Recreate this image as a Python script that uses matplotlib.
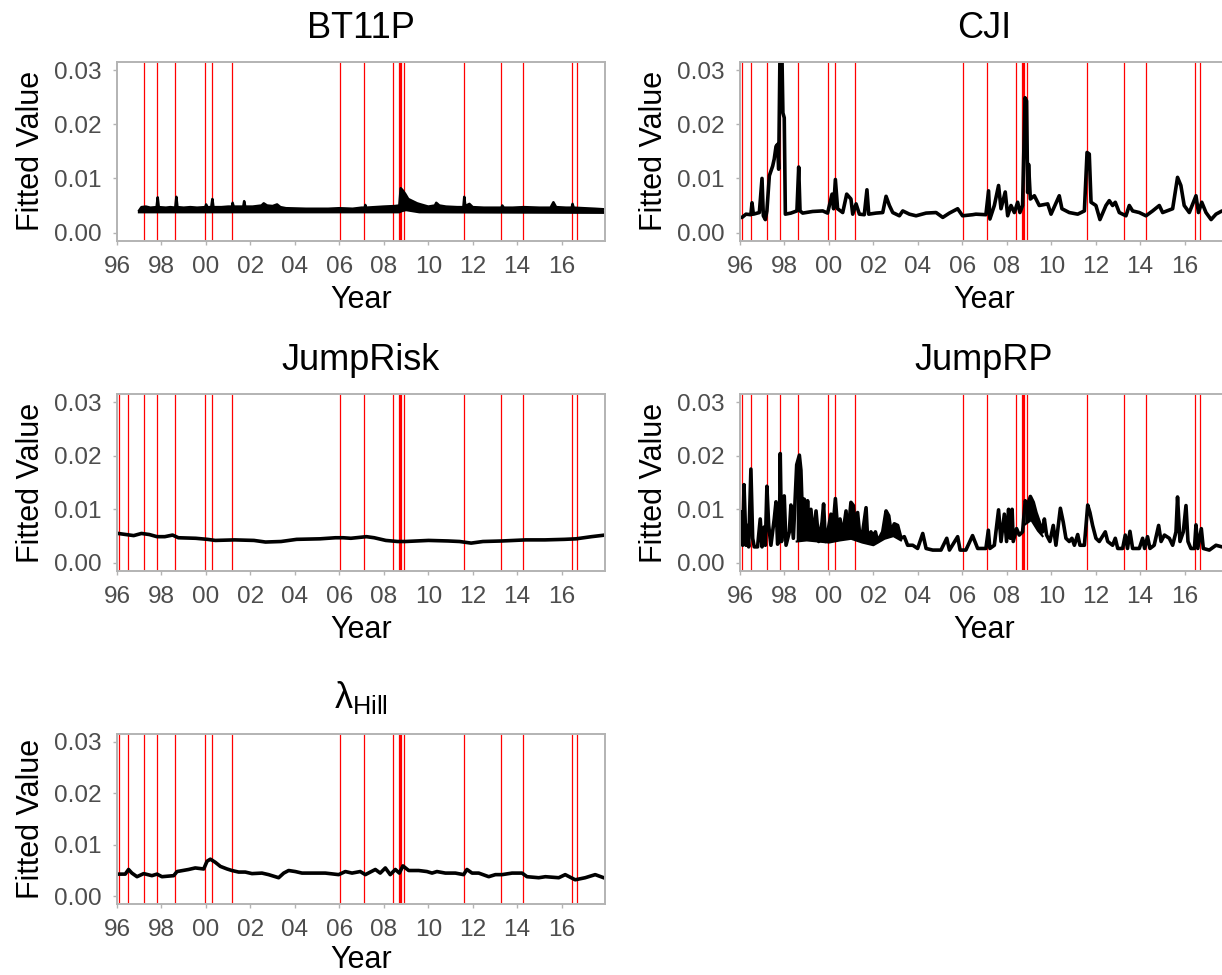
import matplotlib
matplotlib.use("Agg")
import matplotlib.pyplot as plt

plt.rcParams['font.family'] = ['Liberation Sans', 'DejaVu Sans']
plt.rcParams['mathtext.fontset'] = 'custom'
plt.rcParams['mathtext.rm'] = 'Liberation Sans'
plt.rcParams['mathtext.it'] = 'Liberation Sans:italic'

# event dates (red vertical lines)
events = [1996.10, 1996.48, 1997.23, 1997.78, 1998.62, 1999.97, 2000.26, 2001.16,
          2006.03, 2007.12, 2008.40, 2008.67, 2008.71, 2008.76, 2008.89,
          2011.59, 2013.29, 2014.26, 2016.48, 2016.69]

# BT11P: upper edge and lower edge of the band
bt_t = [1997.0, 1997.1, 1997.3, 1997.5, 1997.78, 1997.83, 1997.88, 1998.2, 1998.4, 1998.62,
        1998.67, 1998.72, 1999.0, 1999.3, 1999.6, 1999.97, 2000.01, 2000.06, 2000.24, 2000.29,
        2000.34, 2000.7, 2001.0, 2001.17, 2001.2, 2001.25, 2001.5, 2001.68, 2001.72, 2001.77,
        2002.1, 2002.5, 2002.6, 2002.75, 2003.0, 2003.2, 2003.35, 2003.6, 2004.5, 2005.5,
        2006.0, 2006.6, 2007.0, 2007.14, 2007.17, 2007.21, 2007.6, 2008.0, 2008.5, 2008.7,
        2008.76, 2008.85, 2008.97, 2009.1, 2009.3, 2009.5, 2009.66, 2010.0, 2010.3, 2010.36,
        2010.5, 2010.8, 2011.3, 2011.58, 2011.62, 2011.67, 2011.85, 2012.0, 2012.5, 2013.0,
        2013.29, 2013.33, 2013.4, 2013.8, 2014.3, 2015.0, 2015.5, 2015.63, 2015.75, 2016.2,
        2016.45, 2016.49, 2016.54, 2017.0, 2017.5, 2017.9]
bt_hi = [0.0041, 0.0047, 0.0048, 0.0046, 0.0047, 0.0065, 0.0047, 0.0046, 0.0047, 0.0046,
         0.0066, 0.0047, 0.0046, 0.0047, 0.0046, 0.0047, 0.0052, 0.0047, 0.0047, 0.0062,
         0.0047, 0.0047, 0.0048, 0.0048, 0.0055, 0.0048, 0.0048, 0.0048, 0.0058, 0.0048,
         0.0048, 0.0050, 0.0054, 0.0050, 0.0049, 0.0052, 0.0047, 0.0045, 0.0044, 0.0044,
         0.0045, 0.0044, 0.0046, 0.0046, 0.0051, 0.0046, 0.0047, 0.0048, 0.0049, 0.0050,
         0.0082, 0.0078, 0.0071, 0.0062, 0.0058, 0.0054, 0.0052, 0.0048, 0.0050, 0.0055,
         0.0050, 0.0048, 0.0047, 0.0047, 0.0066, 0.0049, 0.0053, 0.0047, 0.0046, 0.0046,
         0.0046, 0.0050, 0.0046, 0.0046, 0.0047, 0.0046, 0.0046, 0.0056, 0.0047, 0.0046,
         0.0046, 0.0053, 0.0046, 0.0045, 0.0044, 0.0043]
bt_lo_t = [1997.0, 2008.7, 2008.8, 2009.0, 2009.3, 2009.6, 2017.9]
bt_lo = [0.0038, 0.0038, 0.0040, 0.0042, 0.0040, 0.0038, 0.0037]

# CJI
cji_t = [1996.0, 1996.09, 1996.27, 1996.49, 1996.54, 1996.60, 1996.87, 1996.99, 1997.05, 1997.14,
         1997.21, 1997.32, 1997.47, 1997.54, 1997.62, 1997.69, 1997.74, 1997.80, 1997.89, 1997.93,
         1997.99, 1998.04, 1998.29, 1998.56, 1998.64, 1998.70, 1998.82, 1999.27, 1999.72, 1999.94,
         2000.14, 2000.21, 2000.29, 2000.39, 2000.62, 2000.80, 2000.99, 2001.07, 2001.22, 2001.37,
         2001.59, 2001.71, 2001.79, 2002.12, 2002.42, 2002.57, 2002.72, 2002.87, 2003.17, 2003.32,
         2003.62, 2003.92, 2004.37, 2004.82, 2005.12, 2005.42, 2005.79, 2006.01, 2006.46, 2006.61,
         2007.06, 2007.18, 2007.24, 2007.44, 2007.63, 2007.74, 2007.93, 2008.04, 2008.19, 2008.34,
         2008.49, 2008.59, 2008.71, 2008.82, 2008.89, 2008.94, 2008.98, 2009.06, 2009.24, 2009.46,
         2009.84, 2009.99, 2010.36, 2010.48, 2010.81, 2011.19, 2011.49, 2011.61, 2011.71, 2011.79,
         2012.01, 2012.19, 2012.46, 2012.61, 2012.76, 2012.88, 2013.06, 2013.36, 2013.51, 2013.66,
         2013.96, 2014.26, 2014.56, 2014.86, 2015.01, 2015.46, 2015.68, 2015.83, 2015.98, 2016.21,
         2016.51, 2016.62, 2016.77, 2016.96, 2017.19, 2017.41, 2017.68, 2017.9]
cji_v = [0.0028, 0.0028, 0.0034, 0.0033, 0.0055, 0.0034, 0.0037, 0.0100, 0.0031, 0.0024,
         0.0040, 0.0105, 0.0123, 0.0136, 0.0159, 0.0163, 0.0117, 0.0340, 0.0320, 0.0221,
         0.0212, 0.0034, 0.0036, 0.0040, 0.0121, 0.0040, 0.0036, 0.0039, 0.0040, 0.0036,
         0.0071, 0.0044, 0.0098, 0.0044, 0.0037, 0.0071, 0.0062, 0.0034, 0.0053, 0.0034,
         0.0033, 0.0079, 0.0034, 0.0036, 0.0037, 0.0067, 0.0050, 0.0037, 0.0031, 0.0040,
         0.0034, 0.0031, 0.0036, 0.0037, 0.0028, 0.0036, 0.0044, 0.0031, 0.0033, 0.0034,
         0.0033, 0.0077, 0.0025, 0.0050, 0.0087, 0.0044, 0.0075, 0.0031, 0.0050, 0.0037,
         0.0056, 0.0037, 0.0050, 0.0249, 0.0243, 0.0074, 0.0126, 0.0062, 0.0068, 0.0050,
         0.0053, 0.0034, 0.0068, 0.0044, 0.0037, 0.0034, 0.0040, 0.0148, 0.0145, 0.0056,
         0.0050, 0.0024, 0.0050, 0.0059, 0.0050, 0.0056, 0.0037, 0.0031, 0.0050, 0.0040,
         0.0037, 0.0031, 0.0040, 0.0050, 0.0037, 0.0044, 0.0102, 0.0087, 0.0050, 0.0037,
         0.0068, 0.0037, 0.0056, 0.0037, 0.0024, 0.0034, 0.0040, 0.0038]

# JumpRisk
jr_t = [1996.05, 1996.40, 1996.75, 1997.10, 1997.45, 1997.80, 1998.15, 1998.50, 1998.76, 1999.54,
        2000.07, 2000.42, 2001.29, 2002.16, 2002.68, 2003.38, 2004.08, 2005.13, 2005.83, 2006.17,
        2006.52, 2007.22, 2007.57, 2008.09, 2008.62, 2008.97, 2010.01, 2010.89, 2011.41, 2011.93,
        2012.46, 2013.33, 2014.38, 2015.25, 2016.12, 2016.65, 2017.34, 2017.95]
jr_v = [0.0055, 0.0053, 0.0051, 0.0055, 0.0053, 0.0049, 0.0049, 0.0052, 0.0047, 0.0046,
        0.0044, 0.0042, 0.0043, 0.0042, 0.0039, 0.0040, 0.0044, 0.0045, 0.0047, 0.0047,
        0.0046, 0.0049, 0.0047, 0.0042, 0.0040, 0.0040, 0.0042, 0.0041, 0.0040, 0.0037,
        0.0040, 0.0041, 0.0043, 0.0043, 0.0044, 0.0045, 0.0049, 0.0052]

# JumpRP: trace
jrp_t = [1996.0, 1996.04, 1996.12, 1996.18, 1996.27, 1996.31, 1996.39, 1996.49, 1996.57, 1996.64,
         1996.79, 1996.91, 1996.99, 1997.09, 1997.14, 1997.21, 1997.29, 1997.39, 1997.54, 1997.62,
         1997.69, 1997.77, 1997.81, 1997.87, 1997.99, 1998.07, 1998.22, 1998.29, 1998.40, 1998.55,
         1998.67, 1998.74, 1998.82, 1998.89, 1998.97, 1999.04, 1999.12, 1999.19, 1999.30, 1999.42,
         1999.54, 1999.69, 1999.76, 1999.84, 1999.94, 2000.09, 2000.17, 2000.29, 2000.39, 2000.50,
         2000.62, 2000.77, 2000.84, 2000.99, 2001.10, 2001.19, 2001.29, 2001.40, 2001.52, 2001.67,
         2001.74, 2001.89, 2002.00, 2002.09, 2002.19, 2002.42, 2002.57, 2002.69, 2002.79, 2002.94,
         2003.09, 2003.24, 2003.39, 2003.54, 2003.77, 2003.99, 2004.22, 2004.37, 2004.67, 2005.04,
         2005.30, 2005.42, 2005.79, 2005.90, 2006.16, 2006.46, 2006.69, 2006.90, 2007.06, 2007.17,
         2007.24, 2007.44, 2007.63, 2007.74, 2007.89, 2007.99, 2008.08, 2008.16, 2008.24, 2008.29,
         2008.44, 2008.56, 2008.71, 2008.83, 2008.94, 2009.06, 2009.19, 2009.31, 2009.46, 2009.61,
         2009.69, 2009.79, 2009.94, 2010.09, 2010.21, 2010.41, 2010.54, 2010.66, 2010.81, 2010.93,
         2011.04, 2011.19, 2011.29, 2011.49, 2011.64, 2011.74, 2011.86, 2012.01, 2012.16, 2012.43,
         2012.54, 2012.76, 2012.88, 2012.99, 2013.21, 2013.33, 2013.43, 2013.54, 2013.66, 2013.96,
         2014.11, 2014.20, 2014.33, 2014.44, 2014.63, 2014.83, 2014.94, 2015.09, 2015.31, 2015.46,
         2015.61, 2015.68, 2015.79, 2015.94, 2016.06, 2016.15, 2016.28, 2016.44, 2016.51, 2016.59,
         2016.75, 2016.84, 2017.11, 2017.41, 2017.68, 2017.9]
jrp_v = [0.0095, 0.0070, 0.0033, 0.0146, 0.0033, 0.0070, 0.0030, 0.0175, 0.0046, 0.0030,
         0.0030, 0.0082, 0.0030, 0.0067, 0.0033, 0.0143, 0.0070, 0.0033, 0.0082, 0.0114,
         0.0035, 0.0040, 0.0204, 0.0040, 0.0125, 0.0033, 0.0058, 0.0108, 0.0046, 0.0183,
         0.0201, 0.0173, 0.0070, 0.0119, 0.0058, 0.0116, 0.0052, 0.0100, 0.0046, 0.0097,
         0.0040, 0.0076, 0.0110, 0.0040, 0.0055, 0.0091, 0.0058, 0.0120, 0.0064, 0.0082,
         0.0052, 0.0097, 0.0046, 0.0113, 0.0107, 0.0058, 0.0094, 0.0046, 0.0058, 0.0103,
         0.0046, 0.0058, 0.0046, 0.0058, 0.0040, 0.0058, 0.0097, 0.0088, 0.0058, 0.0073,
         0.0070, 0.0046, 0.0049, 0.0033, 0.0033, 0.0027, 0.0055, 0.0027, 0.0024, 0.0024,
         0.0046, 0.0024, 0.0049, 0.0024, 0.0024, 0.0051, 0.0027, 0.0027, 0.0027, 0.0061,
         0.0027, 0.0033, 0.0099, 0.0040, 0.0091, 0.0040, 0.0100, 0.0046, 0.0100, 0.0040,
         0.0064, 0.0052, 0.0058, 0.0116, 0.0107, 0.0124, 0.0113, 0.0094, 0.0076, 0.0058,
         0.0082, 0.0052, 0.0040, 0.0070, 0.0033, 0.0102, 0.0076, 0.0046, 0.0040, 0.0046,
         0.0033, 0.0053, 0.0033, 0.0033, 0.0108, 0.0094, 0.0070, 0.0046, 0.0040, 0.0058,
         0.0040, 0.0033, 0.0046, 0.0027, 0.0027, 0.0052, 0.0027, 0.0059, 0.0027, 0.0027,
         0.0046, 0.0027, 0.0049, 0.0027, 0.0033, 0.0070, 0.0040, 0.0052, 0.0046, 0.0033,
         0.0058, 0.0123, 0.0040, 0.0058, 0.0107, 0.0040, 0.0027, 0.0027, 0.0071, 0.0027,
         0.0064, 0.0027, 0.0024, 0.0033, 0.0030, 0.0030]
# JumpRP: lower edge of the two dense stretches
jrp_lo_a_t = [1998.55, 1999.0, 1999.5, 2000.0, 2000.5, 2001.0, 2001.5, 2002.0, 2002.5, 2002.9, 2003.24]
jrp_lo_a = [0.0040, 0.0042, 0.0040, 0.0038, 0.0042, 0.0045, 0.0038, 0.0033, 0.0045, 0.0050, 0.0042]
jrp_lo_b_t = [2008.83, 2009.1, 2009.4, 2009.61]
jrp_lo_b = [0.0072, 0.0080, 0.0060, 0.0050]

# lambda Hill
hill_t = [1996.04, 1996.37, 1996.52, 1996.67, 1996.90, 1997.20, 1997.57, 1997.80, 1998.02, 1998.55,
          1998.70, 1999.22, 1999.52, 1999.90, 2000.05, 2000.20, 2000.42, 2000.65, 2000.95, 2001.17,
          2001.47, 2001.77, 2002.07, 2002.52, 2002.82, 2003.27, 2003.50, 2003.72, 2004.02, 2004.32,
          2004.77, 2005.37, 2005.97, 2006.27, 2006.57, 2006.94, 2007.17, 2007.62, 2007.84, 2008.07,
          2008.29, 2008.52, 2008.70, 2008.86, 2009.12, 2009.57, 2009.94, 2010.17, 2010.39, 2010.77,
          2011.22, 2011.59, 2011.74, 2011.97, 2012.27, 2012.72, 2013.02, 2013.32, 2013.77, 2014.22,
          2014.44, 2014.97, 2015.27, 2015.87, 2016.16, 2016.61, 2017.06, 2017.51, 2017.89]
hill_v = [0.0043, 0.0043, 0.0052, 0.0045, 0.0038, 0.0044, 0.0040, 0.0043, 0.0038, 0.0040,
          0.0048, 0.0052, 0.0055, 0.0053, 0.0068, 0.0072, 0.0066, 0.0058, 0.0053, 0.0050,
          0.0047, 0.0047, 0.0044, 0.0045, 0.0042, 0.0036, 0.0045, 0.0050, 0.0048, 0.0045,
          0.0045, 0.0045, 0.0042, 0.0048, 0.0045, 0.0048, 0.0042, 0.0052, 0.0045, 0.0055,
          0.0042, 0.0052, 0.0045, 0.0059, 0.0050, 0.0050, 0.0048, 0.0045, 0.0048, 0.0045,
          0.0045, 0.0042, 0.0052, 0.0045, 0.0045, 0.0038, 0.0042, 0.0042, 0.0045, 0.0045,
          0.0038, 0.0036, 0.0038, 0.0036, 0.0042, 0.0032, 0.0036, 0.0042, 0.0036]

year_ticks = list(range(1996, 2017, 2))
year_labels = ["%02d" % (y % 100) for y in year_ticks]
y_ticks = [0.00, 0.01, 0.02, 0.03]
y_labels = ["0.00", "0.01", "0.02", "0.03"]

W, H = 1222, 975
fig = plt.figure(figsize=(W / 100, H / 100), dpi=100)

def box(x0, y0, x1, y1):
    # pixel box (top-left origin) -> figure fraction
    return [x0 / W, 1 - y1 / H, (x1 - x0) / W, (y1 - y0) / H]

grey = "#B3B3B3"
txt = "#4D4D4D"

def panel(rect, title, t_start, t_end, tpad=17, xpad=5):
    ax = fig.add_axes(rect)
    for e in events:
        if t_start <= e <= t_end:
            ax.axvline(e, color="red", lw=0.9, zorder=1)
    ax.set_xlim(1996.0, 2017.95)
    ax.set_ylim(-0.0015, 0.0315)
    ax.set_xticks(year_ticks)
    ax.set_xticklabels(year_labels)
    ax.set_yticks(y_ticks)
    ax.set_yticklabels(y_labels)
    ax.tick_params(axis="both", direction="out", length=3, width=1, color=grey,
                   labelcolor=txt, labelsize=17.6, pad=8)
    for s in ax.spines.values():
        s.set_color(grey)
        s.set_linewidth(1.4)
    ax.set_xlabel("Year", fontsize=22, labelpad=xpad)
    ax.set_ylabel("Fitted Value", fontsize=22, labelpad=6)
    ax.set_title(title, fontsize=26, pad=tpad)
    return ax

def band(ax, t_up, v_up, t_low, v_low, lw_up=1.8, lw_low=2.0):
    xs = list(t_up) + list(t_low)[::-1]
    ys = list(v_up) + list(v_low)[::-1]
    ax.fill(xs, ys, color="black", lw=0, zorder=2)
    if lw_up:
        ax.plot(t_up, v_up, color="black", lw=lw_up, zorder=2)
    if lw_low:
        ax.plot(t_low, v_low, color="black", lw=lw_low, zorder=2)

lw = 2.6
ax = panel(box(117, 62, 605, 240.7), "BT11P", bt_t[0], bt_t[-1])
band(ax, bt_t, bt_hi, bt_lo_t, bt_lo)

ax = panel(box(740, 62, 1228, 240.7), "CJI", 1996, 2018)
ax.plot(cji_t, cji_v, color="black", lw=lw, zorder=2)

ax = panel(box(117, 394, 605, 571), "JumpRisk", 1996, 2018)
ax.plot(jr_t, jr_v, color="black", lw=lw, zorder=2)

ax = panel(box(740, 394, 1228, 571), "JumpRP", 1996, 2018)
for lo_t, lo_v in [(jrp_lo_a_t, jrp_lo_a), (jrp_lo_b_t, jrp_lo_b)]:
    seg_t = [t for t in jrp_t if lo_t[0] <= t <= lo_t[-1]]
    seg_v = [v for t, v in zip(jrp_t, jrp_v) if lo_t[0] <= t <= lo_t[-1]]
    band(ax, seg_t, seg_v, lo_t, lo_v, lw_up=0, lw_low=1.5)
ax.plot(jrp_t, jrp_v, color="black", lw=lw, zorder=2)

ax = panel(box(117, 734, 605, 904), r"$\mathrm{\lambda}_{\mathrm{Hill}}$", 1996, 2018,
           tpad=19, xpad=3)
ax.plot(hill_t, hill_v, color="black", lw=lw, zorder=2)

fig.savefig("out.png", dpi=100)
